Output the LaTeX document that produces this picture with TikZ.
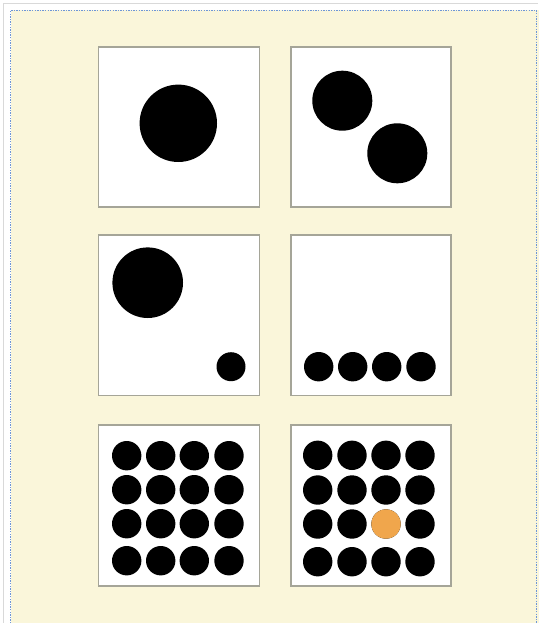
\documentclass[tikz,border=0pt]{standalone}
\usepackage{tikz}
\definecolor{bgyellow}{RGB}{250,246,218}
\definecolor{boxgray}{RGB}{165,165,152}
\definecolor{dotblue}{RGB}{110,150,215}
\definecolor{dotorange}{RGB}{240,166,76}
\tikzset{
  card/.style={draw=boxgray, line width=1.8pt, fill=white},
  blackdot/.style={fill=black},
  orangedot/.style={fill=dotorange},
}
\begin{document}
\begin{tikzpicture}[x=1pt,y=-1pt]
\useasboundingbox (0,0) rectangle (538,623);
\fill[white] (0,0) rectangle (538,623);
\draw[gray!30, line width=0.8pt] (3.5,623) -- (3.5,3.5) -- (538,3.5);
\fill[bgyellow] (10.5,10.5) rectangle (540,626);
\draw[dotblue, line width=1.6pt, dash pattern=on 1.4pt off 1.2pt] (10.5,626) -- (10.5,10.5) -- (536.5,10.5) -- (536.5,626);
% cards
\draw[card] (98.5,47) rectangle (259.5,207);
\draw[card] (290.7,47) rectangle (450.7,207);
\draw[card] (98.5,235) rectangle (259.5,395.5);
\draw[card] (290.7,235) rectangle (450.7,395.5);
\draw[card] (98.5,425) rectangle (259.5,586);
\draw[card] (290.7,425) rectangle (450.7,586);
% card 1
\fill[blackdot] (178.3,123.3) circle (38.7);
% card 2
\fill[blackdot] (342.3,100.7) circle (30);
\fill[blackdot] (397.3,153.3) circle (30);
% card 3
\fill[blackdot] (147.7,282.7) circle (35.3);
\fill[blackdot] (231,366.7) circle (14.5);
% card 4
\foreach \x in {318.7,352.7,386.7,421}
  \fill[blackdot] (\x,366.7) circle (14.7);
% card 5
\foreach \y in {455.7,489.7,523.7,560.7}
  \foreach \x in {126.7,160.7,194.3,229}
    \fill[blackdot] (\x,\y) circle (14.7);
% card 6
\foreach \y in {455.3,490,524,561.7}
  \foreach \x in {317.7,352,386,420}
    \fill[blackdot] (\x,\y) circle (14.7);
\fill[orangedot] (386,524) circle (14.7);
\end{tikzpicture}
\end{document}
